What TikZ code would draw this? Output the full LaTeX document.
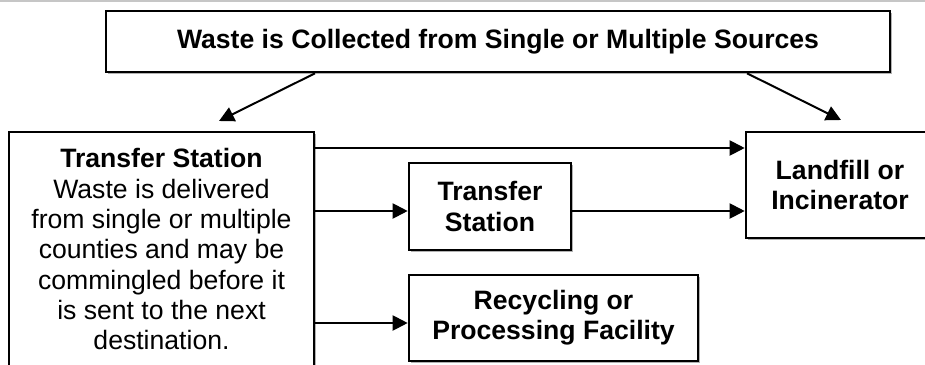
\documentclass[tikz,border=0pt]{standalone}
\usepackage{fontspec}
\setmainfont{Liberation Sans}
\usetikzlibrary{arrows.meta,shadows}
\begin{document}
\begin{tikzpicture}[x=1pt,y=-1pt,
  box/.style={draw=black,line width=2.6pt,fill=white,rectangle,inner sep=0pt,
    drop shadow={shadow xshift=1.6pt,shadow yshift=-1.6pt,fill=gray!60,opacity=1},
    font=\fontsize{26.6}{30.3}\selectfont\bfseries,align=center},
  arr/.style={line width=2pt,-{Triangle[length=15pt,width=15pt]}},
  txt/.style={inner sep=0pt,align=center,font=\fontsize{26.6}{30.3}\selectfont}
]
\useasboundingbox (0,0) rectangle (925,364);
\clip (0,0) rectangle (925,364);
\fill[white] (0,0) rectangle (925,364);
\draw[gray!45,line width=1.6pt] (0,0.8) -- (925,0.8);

\node[box,minimum width=784pt,minimum height=61pt] (top) at (498,41.5)
  {Waste is Collected from Single or Multiple Sources};
\node[box,minimum width=305pt,minimum height=250pt] (ts) at (161.5,257) {};
\node[txt,anchor=north] (tstext) at (161.5,148.5)
  {\textbf{Transfer Station}\\Waste is delivered\\from single or multiple\\counties and may be\\commingled before it\\is sent to the next\\destination.};
\node[box,minimum width=162pt,minimum height=87pt] (mid) at (490,206.5) {Transfer\\Station};
\node[box,minimum width=289pt,minimum height=86pt] (rec) at (553.5,318) {Recycling or\\Processing Facility};
\node[box,minimum width=188pt,minimum height=106pt] (lf) at (840,185) {Landfill or\\Incinerator};

\coordinate (tipL) at (219,121);
\coordinate (tipR) at (841,120);
\draw[arr] (top.south -| 315,0) -- (tipL);
\draw[arr] (top.south -| 747,0) -- (tipR);
\draw[arr] (ts.east |- 0,148) -- (lf.west |- 0,148);
\draw[arr] (ts.east |- 0,211) -- (mid.west |- 0,211);
\draw[arr] (mid.east |- 0,211) -- (lf.west |- 0,211);
\draw[arr] (ts.east |- 0,323) -- (rec.west |- 0,323);
\end{tikzpicture}
\end{document}
